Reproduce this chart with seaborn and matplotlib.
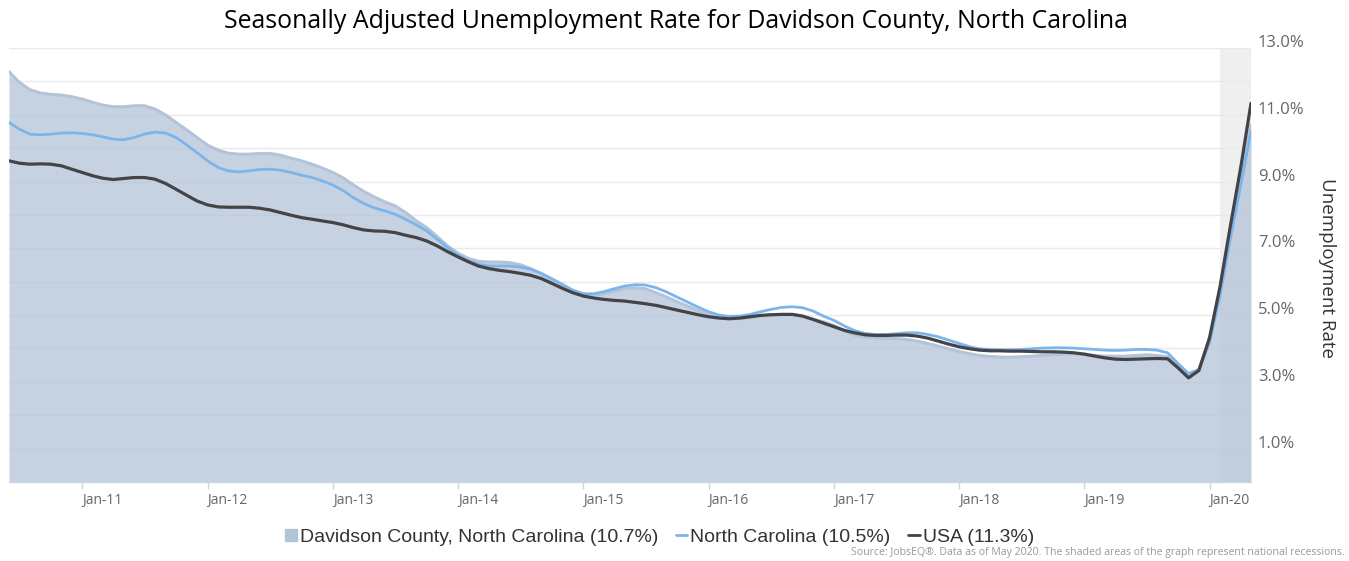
import numpy as np
import pandas as pd
import matplotlib
matplotlib.use("Agg")
import matplotlib.pyplot as plt
import matplotlib.transforms as mtransforms
from matplotlib.lines import Line2D
import seaborn as sns

# ---------------------------------------------------------------------------
# Data (monthly, Jun 2010 - May 2020)
# ---------------------------------------------------------------------------
MONTHS = pd.date_range("2010-06-01", periods=120, freq="MS")

DAVIDSON = [
    12.29, 11.97, 11.75, 11.65, 11.61, 11.59, 11.54, 11.47, 11.37, 11.29,
    11.24, 11.24, 11.27, 11.27, 11.17, 10.99, 10.77, 10.55, 10.32, 10.09,
    9.94, 9.85, 9.82, 9.82, 9.84, 9.84, 9.79, 9.70, 9.62, 9.52,
    9.40, 9.27, 9.10, 8.90, 8.70, 8.54, 8.39, 8.27, 8.07, 7.82,
    7.62, 7.35, 7.07, 6.85, 6.69, 6.61, 6.59, 6.59, 6.57, 6.51,
    6.39, 6.22, 6.04, 5.87, 5.72, 5.62, 5.60, 5.64, 5.72, 5.79,
    5.82, 5.79, 5.67, 5.54, 5.40, 5.27, 5.14, 5.02, 4.92, 4.89,
    4.89, 4.92, 4.97, 5.00, 5.02, 5.02, 4.97, 4.87, 4.80, 4.69,
    4.52, 4.40, 4.34, 4.32, 4.31, 4.30, 4.27, 4.22, 4.15, 4.07,
    3.99, 3.91, 3.84, 3.79, 3.76, 3.74, 3.74, 3.75, 3.77, 3.79,
    3.81, 3.83, 3.84, 3.83, 3.79, 3.77, 3.77, 3.77, 3.79, 3.81,
    3.79, 3.75, 3.47, 3.21, 3.37, 4.25, 5.75, 7.45, 9.10, 10.70,
]

NORTH_CAROLINA = [
    10.77, 10.57, 10.42, 10.40, 10.42, 10.45, 10.46, 10.44, 10.40, 10.34,
    10.27, 10.25, 10.32, 10.42, 10.48, 10.45, 10.32, 10.10, 9.87, 9.62,
    9.42, 9.32, 9.29, 9.32, 9.36, 9.37, 9.34, 9.27, 9.19, 9.12,
    9.02, 8.89, 8.72, 8.52, 8.34, 8.21, 8.12, 8.02, 7.87, 7.70,
    7.52, 7.27, 7.02, 6.79, 6.62, 6.52, 6.47, 6.47, 6.47, 6.44,
    6.37, 6.25, 6.09, 5.92, 5.75, 5.64, 5.64, 5.70, 5.79, 5.87,
    5.91, 5.90, 5.82, 5.69, 5.54, 5.39, 5.24, 5.10, 5.00, 4.96,
    4.97, 5.02, 5.10, 5.17, 5.23, 5.25, 5.22, 5.12, 4.97, 4.84,
    4.67, 4.54, 4.45, 4.42, 4.42, 4.44, 4.47, 4.47, 4.42, 4.35,
    4.25, 4.15, 4.05, 3.99, 3.97, 3.96, 3.96, 3.97, 3.99, 4.01,
    4.02, 4.02, 4.01, 3.99, 3.97, 3.95, 3.94, 3.95, 3.97, 3.97,
    3.95, 3.87, 3.55, 3.25, 3.37, 4.17, 5.60, 7.25, 8.88, 10.50,
]

USA = [
    9.62, 9.55, 9.52, 9.53, 9.52, 9.47, 9.37, 9.27, 9.17, 9.10,
    9.06, 9.09, 9.12, 9.12, 9.07, 8.94, 8.77, 8.59, 8.42, 8.30,
    8.24, 8.23, 8.23, 8.23, 8.20, 8.15, 8.07, 7.99, 7.92, 7.87,
    7.82, 7.77, 7.70, 7.62, 7.55, 7.52, 7.51, 7.47, 7.39, 7.32,
    7.22, 7.07, 6.90, 6.74, 6.59, 6.47, 6.39, 6.34, 6.30, 6.25,
    6.19, 6.09, 5.95, 5.80, 5.67, 5.57, 5.51, 5.47, 5.44, 5.42,
    5.38, 5.34, 5.29, 5.22, 5.15, 5.08, 5.01, 4.95, 4.91, 4.89,
    4.91, 4.95, 4.99, 5.01, 5.02, 5.02, 4.97, 4.87, 4.76, 4.65,
    4.54, 4.47, 4.41, 4.39, 4.39, 4.40, 4.40, 4.37, 4.31, 4.22,
    4.13, 4.05, 3.99, 3.95, 3.93, 3.93, 3.92, 3.92, 3.91, 3.90,
    3.90, 3.89, 3.87, 3.83, 3.77, 3.72, 3.68, 3.67, 3.68, 3.69,
    3.70, 3.69, 3.42, 3.12, 3.34, 4.32, 5.87, 7.62, 9.42, 11.34,
]

LEGEND_LABELS = [
    "Davidson County, North Carolina (10.7%)",
    "North Carolina (10.5%)",
    "USA (11.3%)",
]
RECESSION_START = pd.Timestamp("2020-02-01")
X_TICKS = pd.date_range("2011-01-01", "2020-01-01", freq="YS")
Y_GRID = np.arange(0, 14)

AREA_COLOR = "#b3c4d8"
NC_COLOR = "#7cb5ec"
USA_COLOR = "#434348"

# ---------------------------------------------------------------------------
# Figure
# ---------------------------------------------------------------------------
sns.set_theme(style="white")
plt.rcParams["font.family"] = ["Open Sans", "DejaVu Sans"]

fig = plt.figure(figsize=(13.49, 5.61), dpi=100)
ax = fig.add_axes([9 / 1349, 1 - 482 / 561, (1251 - 9) / 1349, (482 - 48) / 561])

lines_df = pd.DataFrame({
    "month": np.tile(MONTHS, 2),
    "rate": NORTH_CAROLINA + USA,
    "series": [LEGEND_LABELS[1]] * len(MONTHS) + [LEGEND_LABELS[2]] * len(MONTHS),
})

# recession shading
ax.axvspan(RECESSION_START, MONTHS[-1], color="#efefef", zorder=0, lw=0)

# gridlines
for v in Y_GRID[1:]:
    ax.axhline(v, color="#e9e9e9", lw=1, zorder=0.5)

# Davidson County area
ax.fill_between(MONTHS, 0, DAVIDSON, color=AREA_COLOR, alpha=0.75, lw=0, zorder=1)
ax.plot(MONTHS, DAVIDSON, color=AREA_COLOR, lw=2.2, zorder=1.5)

sns.lineplot(
    data=lines_df,
    x="month",
    y="rate",
    hue="series",
    hue_order=LEGEND_LABELS[1:],
    palette=[NC_COLOR, USA_COLOR],
    linewidth=2,
    legend=False,
    ax=ax,
    zorder=3,
)
# make USA line a bit heavier
ax.lines[-1].set_linewidth(2.3)

ax.set_xlim(MONTHS[0], MONTHS[-1])
ax.set_ylim(0, 13)
ax.set_xlabel("")
ax.set_ylabel("")

for side in ["top", "left", "right"]:
    ax.spines[side].set_visible(False)
ax.spines["bottom"].set_color("#ccd6eb")
ax.spines["bottom"].set_linewidth(1)

# x axis
ax.set_xticks(X_TICKS)
ax.set_xticklabels([d.strftime("%b-%y") for d in X_TICKS])
ax.tick_params(axis="x", direction="out", length=5, width=1, color="#ccd6eb",
               labelcolor="#666666", labelsize=10, pad=3, bottom=True)
for lab in ax.get_xticklabels():
    lab.set_horizontalalignment("left")

# y axis on the right, labels on odd values, slightly above their gridline
ax.yaxis.tick_right()
ax.set_yticks(Y_GRID)
ax.set_yticklabels([f"{v:.1f}%" if v % 2 == 1 else "" for v in Y_GRID])
ax.tick_params(axis="y", length=0, labelcolor="#666666", labelsize=12, pad=5)
shift = mtransforms.ScaledTranslation(0, 0.07, fig.dpi_scale_trans)
for lab in ax.get_yticklabels():
    lab.set_transform(lab.get_transform() + shift)

fig.text(1327 / 1349, 1 - 268 / 561, "Unemployment Rate", rotation=270,
         ha="center", va="center", fontsize=13.5, color="#333333")

fig.text(676 / 1349, 1 - 22 / 561,
         "Seasonally Adjusted Unemployment Rate for Davidson County, North Carolina",
         ha="center", va="center", fontsize=17.9, color="#000000")

# legend
handles = [
    Line2D([], [], marker="s", ls="none", color=AREA_COLOR, markersize=8),
    Line2D([], [], color=NC_COLOR, lw=2),
    Line2D([], [], color=USA_COLOR, lw=2),
]
fig.legend(handles, LEGEND_LABELS, loc="center", bbox_to_anchor=(0.489, 1 - 537 / 561),
           ncol=3, frameon=False, handlelength=0.6, handletextpad=0.15,
           columnspacing=0.9,
           prop={"family": ["Liberation Sans", "DejaVu Sans"], "size": 14},
           labelcolor="#333333")

fig.text(1345 / 1349, 1 - 553 / 561,
         "Source: JobsEQ\u00ae. Data as of May 2020. The shaded areas of the graph represent national recessions.",
         ha="right", va="center", fontsize=7.6, color="#999999")

fig.savefig("out.png", dpi=100)
